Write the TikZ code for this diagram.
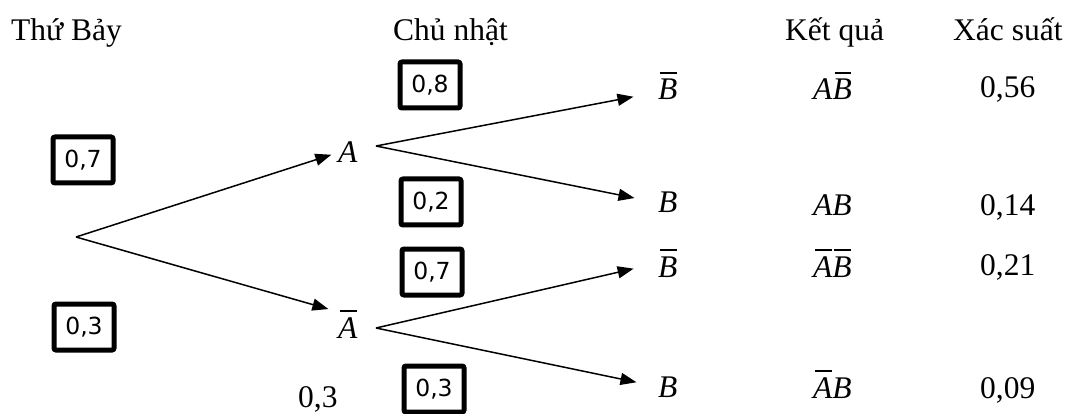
\documentclass[tikz,border=0pt]{standalone}
\usepackage{fontspec}
\setmainfont{Liberation Serif}
\newfontfamily\boxfont{DejaVu Sans}
\usetikzlibrary{arrows.meta}
% italic letter with a bar over it (complementary event)
\newlength\barwd
\newcommand{\compl}[1]{\setbox0=\hbox{\itshape #1}\barwd=\wd0\advance\barwd by -2.5pt%
  \rlap{\kern2pt\raise26pt\hbox{\vrule width\barwd height 2pt depth 0pt}}\box0}
\newcommand{\ev}[1]{\textit{#1}}
\begin{document}
\begin{tikzpicture}[x=1pt,y=-1pt,
  txt/.style={font=\fontsize{31.5}{36}\selectfont, inner sep=0pt, anchor=base west},
  prob/.style={draw, line width=5pt, rounded corners=2pt, minimum width=60pt,
    minimum height=46pt, inner sep=0pt, font=\boxfont\fontsize{23.5}{28}\selectfont},
  branch/.style={line width=1.5pt, -{Triangle[length=16pt,width=12pt]}}]
\useasboundingbox (0,0) rectangle (1068,414);

% column headings
\node[txt] (h1) at (11,41) {Thứ Bảy};
\node[txt] (h2) at (393,41) {Chủ nhật};
\node[txt] (h3) at (785,41) {Kết quả};
\node[txt] (h4) at (953,41) {Xác suất};

% first stage
\coordinate (root) at (76,237);
\node[txt] (A)  at (338,163) {\ev{A}};
\node[txt] (nA) at (338,338) {\compl{A}};
\draw[branch, shorten >=7pt] (root) -- (A.west);
\draw[branch, shorten >=10pt] (root) -- ([yshift=-2pt]nA.north west);

% second stage
\coordinate (fA)  at (376,146);
\coordinate (fnA) at (376,328);
\node[txt] (b1) at (658,100) {\compl{B}};
\node[txt] (b2) at (658,213) {\ev{B}};
\node[txt] (b3) at (658,277) {\compl{B}};
\node[txt] (b4) at (658,397) {\ev{B}};
\draw[branch, shorten >=25pt] (fA) -- ([yshift=-6pt]b1.west);
\draw[branch, shorten >=24pt] (fA) -- (b2.west);
\draw[branch, shorten >=25pt] (fnA) -- (b3.west);
\draw[branch, shorten >=22pt] (fnA) -- (b4.west);

% probabilities on the branches
\node[prob] (p1) at (83,160) {0,7};
\node[prob] (p2) at (84,327) {0,3};
\node[prob] (p3) at (430,85) {0,8};
\node[prob] (p4) at (431,202) {0,2};
\node[prob] (p5) at (432,272) {0,7};
\node[prob] (p6) at (434,389) {0,3};
\node[txt] (s) at (298,407) {0,3};

% outcomes
\node[txt] (o1) at (813,100) {\ev{A}\compl{B}};
\node[txt] (o2) at (813,215) {\ev{AB}};
\node[txt] (o3) at (813,277) {\compl{A}\compl{B}};
\node[txt] (o4) at (813,398) {\compl{A}\ev{B}};

% outcome probabilities
\node[txt] (q1) at (980,98) {0,56};
\node[txt] (q2) at (980,215) {0,14};
\node[txt] (q3) at (980,275) {0,21};
\node[txt] (q4) at (980,398) {0,09};
\end{tikzpicture}
\end{document}
